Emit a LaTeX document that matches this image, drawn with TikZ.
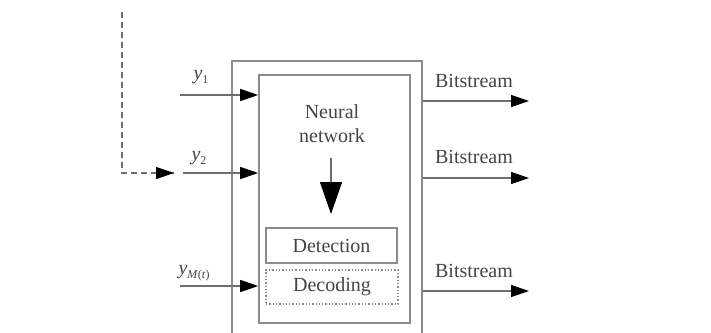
\documentclass[tikz,border=0pt]{standalone}
\usepackage{fontspec}
\setmainfont{Liberation Serif}
\usetikzlibrary{arrows.meta,calc}
\definecolor{boxline}{HTML}{8C8C8C}
\definecolor{wire}{HTML}{6E6E6E}
\definecolor{txt}{HTML}{444444}
% italic signal name with an upright, lowered index
\newcommand{\sigvar}[1]{\textit{y}\raisebox{-4pt}{\fontsize{12}{12}\selectfont #1}}
\begin{document}
\begin{tikzpicture}[x=1pt,y=-1pt,
  box/.style={draw=boxline,line width=1.6pt,inner sep=0pt,anchor=center},
  dotbox/.style={draw=boxline,line width=1.3pt,dotted,inner sep=0pt,anchor=center},
  lbl/.style={text=txt,font=\fontsize{20}{22}\selectfont,inner sep=0pt},
  sig/.style={draw=wire,line width=1.2pt,-{Triangle[length=18pt,width=12pt,fill=black,color=black]}},
  bigdown/.style={draw=wire,line width=1.2pt,-{Triangle[length=32pt,width=22pt,fill=black,color=black]}}]
\useasboundingbox (0,0) rectangle (711,332);
\fill[white] (0,0) rectangle (711,332);
\clip (0,0) rectangle (711,332);

% receiver blocks
\node[box,minimum width=190pt,minimum height=290pt] (outer) at (327,206) {};
\node[box,minimum width=151pt,minimum height=248pt] (inner) at (334.5,199) {};
\node[box,minimum width=131pt,minimum height=35pt] (det) at (331.5,245.5) {};
\node[lbl] at (det) {Detection};
\node[dotbox,minimum width=132pt,minimum height=34pt] (dec) at (332,287) {};
\node[lbl] at (dec) {Decoding};
\node[lbl,align=center,font=\fontsize{20}{24}\selectfont] (nn) at (332,124) {Neural\\network};

% neural network feeds detection
\coordinate (nnout) at (331,158);
\coordinate (nnin) at (331,214);
\draw[bigdown] (nnout) -- (nnin);

% received signals
\coordinate (y1s) at (180,95);
\coordinate (y2s) at (183,173);
\coordinate (yMs) at (180,286);
\draw[sig] (y1s) -- (y1s -| inner.west);
\draw[sig] (y2s) -- (y2s -| inner.west);
\draw[sig] (yMs) -- (yMs -| inner.west);
\node[lbl] (ly1) at (201,77) {\sigvar{1}};
\node[lbl] (ly2) at (199,158) {\sigvar{2}};
\node[lbl] (lyM) at (194,273) {\sigvar{\textit{M}(\textit{t})}};

% feedback path
\coordinate (fbtop) at (122,12);
\coordinate (fbcorner) at (122,173);
\coordinate (fbend) at (174,173);
\draw[draw=wire,line width=1.2pt,dash pattern=on 6pt off 4pt] (fbtop) -- (fbcorner) -- (fbend);
\draw[sig] ($(fbend)+(-2,0)$) -- (fbend);

% outputs
\coordinate (b1) at (529,101);
\coordinate (b2) at (529,178);
\coordinate (b3) at (529,291);
\draw[sig] (b1 -| outer.east) -- (b1);
\draw[sig] (b2 -| outer.east) -- (b2);
\draw[sig] (b3 -| outer.east) -- (b3);
\node[lbl] (lb1) at (474,81) {Bitstream};
\node[lbl] (lb2) at (474,157) {Bitstream};
\node[lbl] (lb3) at (474,271) {Bitstream};
\end{tikzpicture}
\end{document}
